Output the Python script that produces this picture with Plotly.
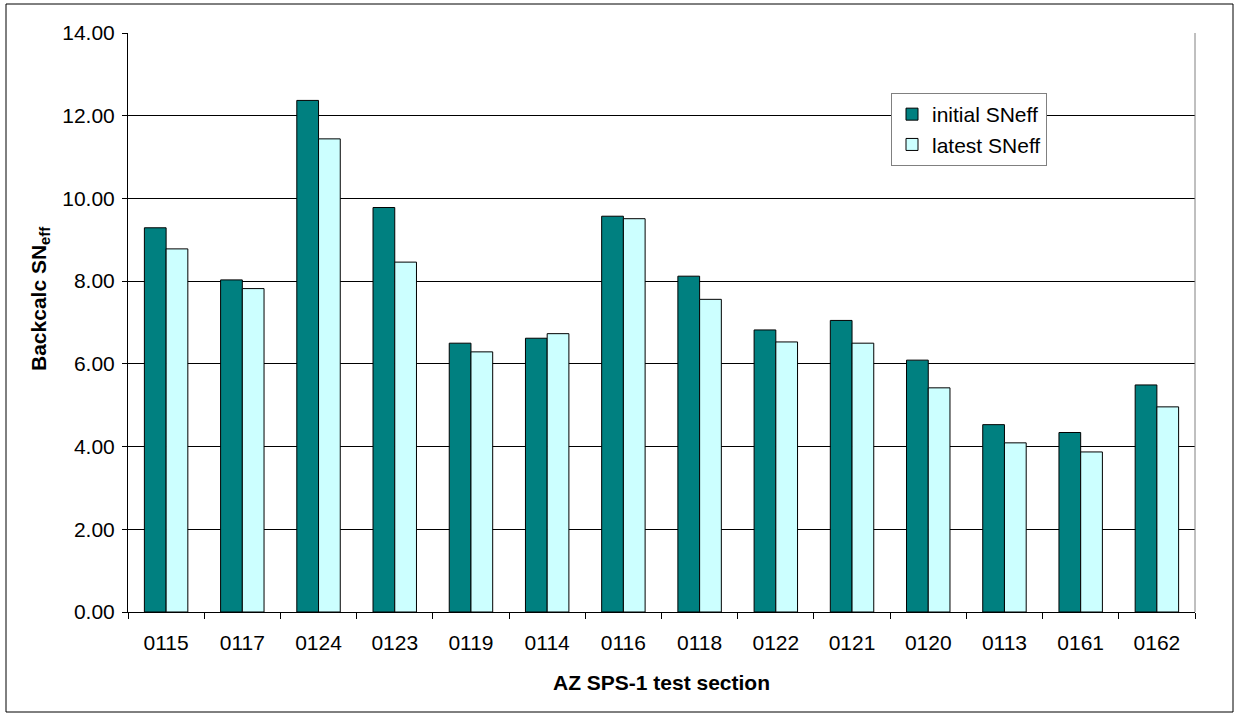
import plotly.graph_objects as go

sections = ["0115", "0117", "0124", "0123", "0119", "0114", "0116", "0118",
            "0122", "0121", "0120", "0113", "0161", "0162"]
initial_sneff = [9.29, 8.03, 12.37, 9.78, 6.50, 6.62, 9.57, 8.12,
                 6.82, 7.05, 6.09, 4.53, 4.34, 5.49]
latest_sneff = [8.78, 7.82, 11.44, 8.46, 6.29, 6.73, 9.51, 7.56,
                6.53, 6.50, 5.42, 4.09, 3.87, 4.96]

FONT = "Arial, Liberation Sans, sans-serif"
FS = 21

fig = go.Figure()
fig.add_trace(go.Bar(x=sections, y=initial_sneff, name="initial SNeff",
                     marker=dict(color="#008080", line=dict(color="#000000", width=1))))
fig.add_trace(go.Bar(x=sections, y=latest_sneff, name="latest SNeff",
                     marker=dict(color="#CCFFFF", line=dict(color="#000000", width=1))))

L, R, T, B = 128, 1195, 33, 612
W, H = 1238, 713
pw, ph = R - L, B - T

def px(x):
    return (x - L) / pw

def py(y):
    return (B - y) / ph

fig.update_layout(
    width=W, height=H,
    margin=dict(l=L, r=W - R, t=T, b=H - B, autoexpand=False),
    paper_bgcolor="white", plot_bgcolor="white",
    font=dict(family=FONT, size=FS, color="#000000"),
    barmode="group", bargap=0.43, bargroupgap=0,
    showlegend=True,
    legend=dict(x=px(891), y=py(93), xanchor="left", yanchor="top",
                bgcolor="white", bordercolor="#808080", borderwidth=1,
                font=dict(size=FS, family=FONT), traceorder="normal",
                itemwidth=30, tracegroupgap=0),
    xaxis=dict(
        title=dict(text="<b>AZ SPS-1 test section</b>", font=dict(size=FS), standoff=22),
        showline=True, linecolor="#000000", linewidth=1,
        ticks="outside", ticklen=6, tickcolor="#000000", tickson="boundaries",
        ticklabelstandoff=12,
        showgrid=False, tickfont=dict(size=FS),
    ),
    yaxis=dict(
        range=[0, 14], dtick=2, tickformat=".2f",
        showline=True, linecolor="#000000", linewidth=1,
        ticks="outside", ticklen=5, tickcolor="#000000",
        ticklabelstandoff=3,
        showgrid=True, gridcolor="#000000", gridwidth=1,
        zeroline=False, tickfont=dict(size=FS),
    ),
    annotations=[
        dict(text="<b>Backcalc SN<sub>eff</sub></b>", xref="paper", yref="paper",
             x=px(40), y=py(373), xanchor="center", yanchor="bottom",
             textangle=-90, showarrow=False, font=dict(size=FS, family=FONT)),
    ],
    shapes=[
        dict(type="line", xref="paper", yref="paper", x0=1, x1=1, y0=0, y1=1,
             line=dict(color="#808080", width=1)),
        dict(type="rect", xref="paper", yref="paper",
             x0=px(6), x1=px(1233), y0=py(712), y1=py(4),
             line=dict(color="#000000", width=1), fillcolor="rgba(0,0,0,0)", layer="below"),
    ],
)

fig.write_html("out.html")
